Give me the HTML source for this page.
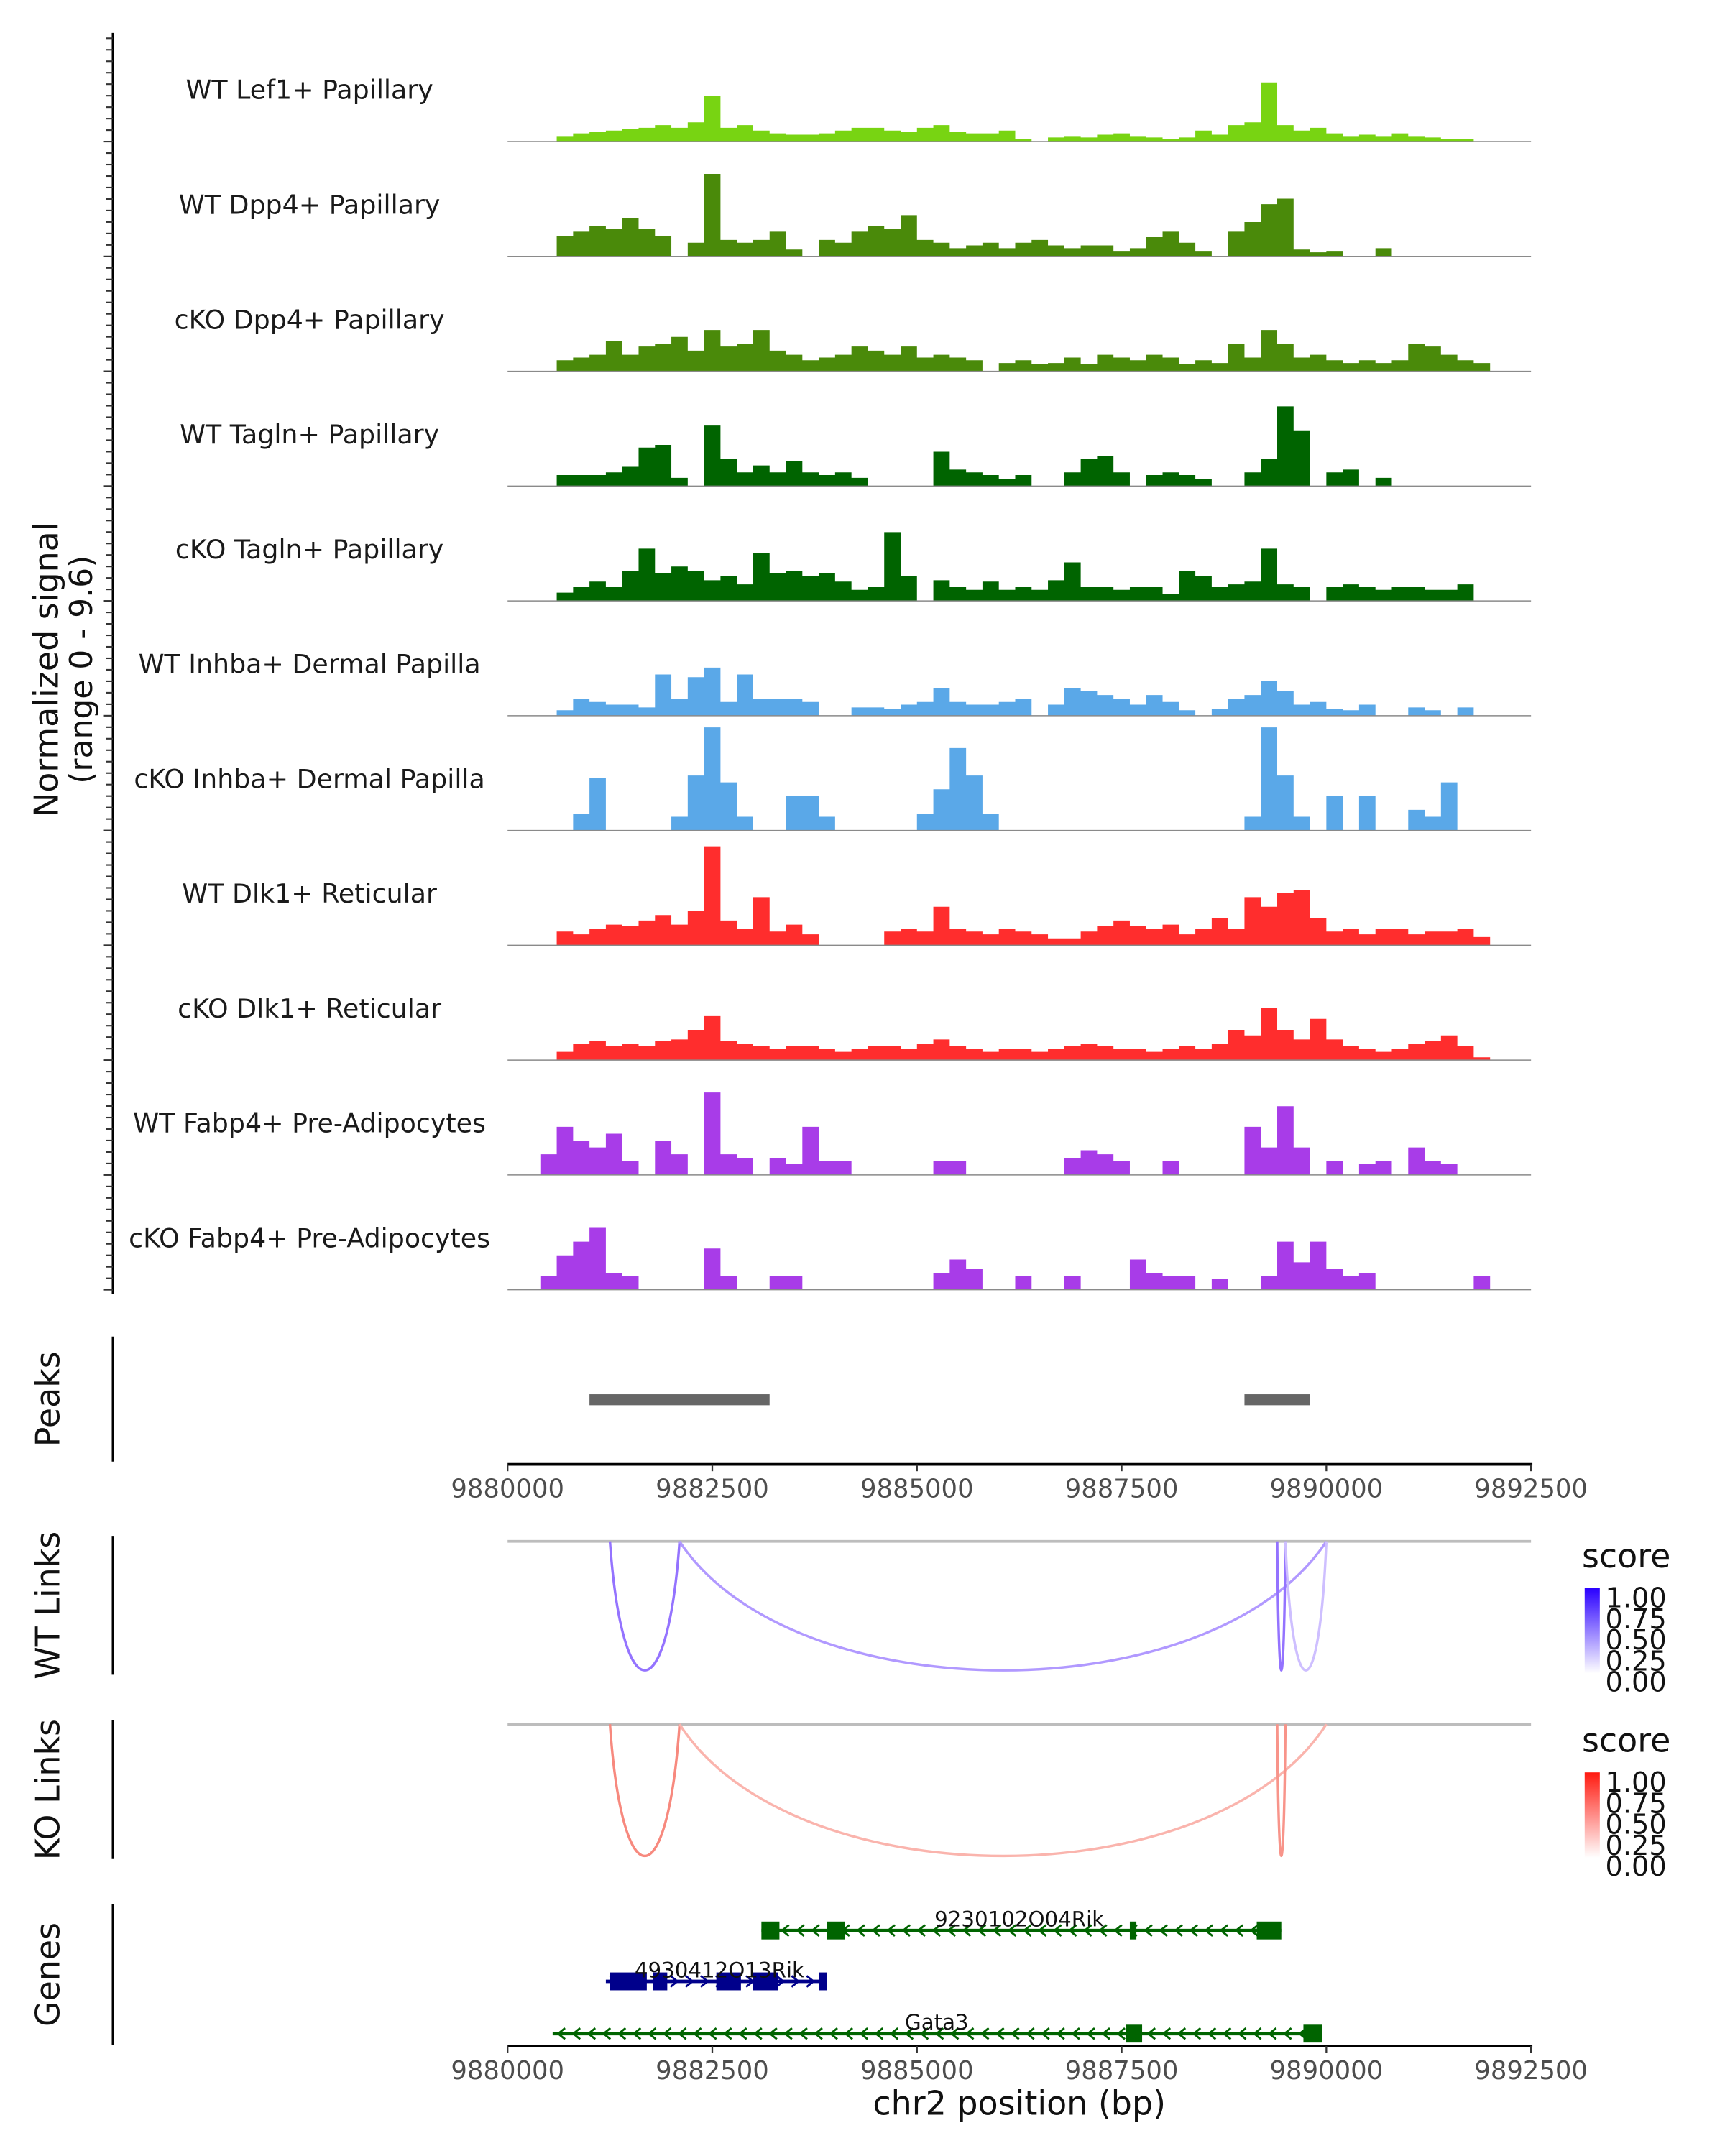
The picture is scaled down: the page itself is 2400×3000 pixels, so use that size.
<!DOCTYPE html>
<html><head><meta charset="utf-8"><style>
html,body{margin:0;padding:0;background:#fff;}
svg{display:block;font-family:"DejaVu Sans","Liberation Sans",sans-serif;}
</style></head><body>
<svg id="chart" width="2400" height="3000" viewBox="0 0 1254 1568" preserveAspectRatio="none" xmlns="http://www.w3.org/2000/svg">
<rect x="0" y="0" width="1254" height="1568" fill="#fff"/>
<g id="tracks"></g>
<g id="misc"></g>
</svg>
<script>
// ---- data ----
const trackNames = ["WT Lef1+ Papillary","WT Dpp4+ Papillary","cKO Dpp4+ Papillary","WT Tagln+ Papillary","cKO Tagln+ Papillary","WT Inhba+ Dermal Papilla","cKO Inhba+ Dermal Papilla","WT Dlk1+ Reticular","cKO Dlk1+ Reticular","WT Fabp4+ Pre-Adipocytes","cKO Fabp4+ Pre-Adipocytes"];
const trackColors = ["#78d412","#4a8a0a","#4a8a0a","#006400","#006400","#5aa8e8","#5aa8e8","#ff2d2d","#ff2d2d","#a83ce8","#a83ce8"];
const binStart = 9880400;
const binSize = 200;
const signalMax = 80;
const sigLef1WT = [0,4,6,7,8,9,10,12,10,14,33,10,12,8,6,5,5,6,8,10,10,8,7,10,12,7,6,6,8,2,0,3,4,3,5,6,4,3,2,3,8,5,12,14,43,12,8,10,6,4,5,4,6,4,3,2,2,0];
const sigDpp4WT = [0,15,18,22,20,28,20,15,0,10,60,12,10,12,18,5,0,12,10,18,22,20,30,12,10,6,8,10,6,10,12,8,6,8,8,4,6,14,18,10,4,0,18,25,38,42,5,3,4,0,0,6,0,0,0,0,0,0];
const sigDpp4KO = [0,8,10,12,22,12,18,20,25,15,30,18,20,30,15,12,8,10,12,18,15,12,18,10,12,10,8,0,6,8,5,6,10,5,12,10,8,12,10,5,8,6,20,10,30,20,10,12,8,6,8,6,8,20,18,12,8,6];
const sigTaglnWT = [0,8,8,8,10,14,28,30,6,0,44,20,10,15,10,18,10,8,10,6,0,0,0,0,25,12,10,8,5,8,0,0,10,20,22,10,0,8,10,8,5,0,0,10,20,58,40,0,10,12,0,6,0,0,0,0,0,0];
const sigTaglnKO = [0,6,10,14,10,22,38,20,25,22,15,18,12,35,20,22,18,20,14,8,10,50,18,0,15,10,8,14,8,10,8,15,28,10,10,8,10,10,5,22,18,10,12,14,38,12,10,0,10,12,10,8,10,10,8,8,12,0];
const sigInhbaWT = [0,4,12,10,8,8,6,30,12,28,35,10,30,12,12,12,10,0,0,6,6,5,8,10,20,10,8,8,10,12,0,8,20,18,15,12,8,15,10,4,0,5,12,15,25,18,8,10,5,4,8,0,0,6,4,0,6,0];
const sigInhbaKO = [0,0,12,38,0,0,0,0,10,40,75,35,10,0,0,25,25,10,0,0,0,0,0,12,30,60,40,12,0,0,0,0,0,0,0,0,0,0,0,0,0,0,0,10,75,40,10,0,25,0,25,0,0,15,10,35,0,0];
const sigDlk1WT = [0,10,8,12,15,14,18,22,15,25,72,18,12,35,10,15,8,0,0,0,0,10,12,10,28,12,10,8,12,10,8,5,5,10,14,18,14,12,15,8,12,20,12,35,28,38,40,20,10,12,8,12,12,8,10,10,12,6];
const sigDlk1KO = [0,6,12,14,10,12,10,14,15,22,32,14,12,10,8,10,10,8,6,8,10,10,8,12,15,10,8,6,8,8,6,8,10,12,10,8,8,6,8,10,8,12,22,18,38,22,15,30,15,10,8,6,8,12,14,18,10,2];
const sigFabp4WT = [15,35,25,20,30,10,0,25,15,0,60,15,12,0,12,8,35,10,10,0,0,0,0,0,10,10,0,0,0,0,0,0,12,18,15,10,0,0,10,0,0,0,0,35,20,50,20,0,10,0,8,10,0,20,10,8,0,0];
const sigFabp4KO = [10,25,35,45,12,10,0,0,0,0,30,10,0,0,10,10,0,0,0,0,0,0,0,0,12,22,15,0,0,10,0,0,10,0,0,0,22,12,10,10,0,8,0,0,10,35,20,35,15,10,12,0,0,0,0,0,0,10];
const signals = [sigLef1WT,sigDpp4WT,sigDpp4KO,sigTaglnWT,sigTaglnKO,sigInhbaWT,sigInhbaKO,sigDlk1WT,sigDlk1KO,sigFabp4WT,sigFabp4KO];
const xTicks = [9880000,9882500,9885000,9887500,9890000,9892500];
const peakStarts = [9881000,9889000];
const peakEnds = [9883200,9889800];
const wtLinkStarts = [9881250,9882100,9889400,9889500];
const wtLinkEnds = [9882100,9890000,9889500,9890000];
const wtLinkScores = [0.55,0.4,0.55,0.25];
const koLinkStarts = [9881250,9882100,9889400];
const koLinkEnds = [9882100,9890000,9889500];
const koLinkScores = [0.55,0.35,0.5];
const legendTicks = ["1.00","0.75","0.50","0.25","0.00"];

// ---- scales ----
const X0 = 9880000, X1 = 9892500, PX0 = 369, PX1 = 1113;
function xs(bp){ return PX0 + (bp - X0) / (X1 - X0) * (PX1 - PX0); }
const NS = "http://www.w3.org/2000/svg";
function mk(tag, attrs, parent, text){
  const e = document.createElementNS(NS, tag);
  for (const k in attrs) e.setAttribute(k, attrs[k]);
  if (text !== undefined) e.textContent = text;
  parent.appendChild(e); return e;
}
const tracksG = document.getElementById('tracks');
const misc = document.getElementById('misc');

// tracks
const base0 = 103, spacing = 83.5, hpx = 80;
signals.forEach((sig, t) => {
  const by = base0 + t * spacing;
  const g = mk('g', {}, tracksG);
  
  
  let d = 'M' + xs(binStart) + ',' + by;
  sig.forEach((v, i) => {
    const xa = xs(binStart + i * binSize), xb = xs(binStart + (i + 1) * binSize);
    const y = by - v / signalMax * hpx;
    d += ' L' + xa + ',' + y + ' L' + xb + ',' + y;
  });
  d += ' L' + xs(binStart + sig.length * binSize) + ',' + by + ' Z';
  const p = mk('path', {d: d, fill: trackColors[t], stroke: 'none'}, g);
  
  
  const bl = mk('line', {x1: PX0, x2: PX1, y1: by, y2: by, stroke: '#8a8a8a', 'stroke-width': 0.8}, g);
  
  
  const lab = mk('text', {x: 225, y: by - 31, 'text-anchor': 'middle', 'font-size': 19, fill: '#1a1a1a'}, g, trackNames[t]);
  
  
});

// left signal axis
mk('line', {x1: 82, x2: 82, y1: 24, y2: 941, stroke: '#000', 'stroke-width': 1.5}, misc);
for (let t = 0; t < 11; t++) {
  const by = base0 + t * spacing;
  for (let k = 0; k < 10; k++) {
    const y = by - k * 8.35;
    mk('line', {x1: k === 0 ? 75 : 77, x2: 82, y1: y, y2: y, stroke: '#333', 'stroke-width': 1.1}, misc);
  }
}
const yt = mk('text', {transform: 'translate(42,487) rotate(-90)', 'text-anchor': 'middle', 'font-size': 24, fill: '#111'}, misc, 'Normalized signal');


mk('text', {transform: 'translate(67,487) rotate(-90)', 'text-anchor': 'middle', 'font-size': 23, fill: '#111'}, misc, '(range 0 - 9.6)');

// side panel axes and titles
function sideAxis(y1, y2, label, name){
  mk('line', {x1: 82, x2: 82, y1: y1, y2: y2, stroke: '#000', 'stroke-width': 1.5}, misc);
  const t = mk('text', {transform: 'translate(43,' + ((y1 + y2) / 2) + ') rotate(-90)', 'text-anchor': 'middle', 'font-size': 24, fill: '#111'}, misc, label);
  
  
}
sideAxis(972, 1063, 'Peaks', 'peaks-title');
sideAxis(1117, 1218, 'WT Links', 'wt-links-title');
sideAxis(1251, 1352, 'KO Links', 'ko-links-title');
sideAxis(1385, 1487, 'Genes', 'genes-title');

// peaks
peakStarts.forEach((s, i) => {
  const r = mk('rect', {x: xs(s), y: 1014, width: xs(peakEnds[i]) - xs(s), height: 8, fill: '#666'}, misc);
  
  
});

// x axes
function xAxis(y, name){
  const g = mk('g', {}, misc);
  
  
  mk('line', {x1: PX0, x2: PX1 + 1, y1: y, y2: y, stroke: '#000', 'stroke-width': 2}, g);
  xTicks.forEach(v => {
    mk('line', {x1: xs(v), x2: xs(v), y1: y, y2: y + 5, stroke: '#333', 'stroke-width': 1.2}, g);
    mk('text', {x: xs(v), y: y + 24, 'text-anchor': 'middle', 'font-size': 18.5, fill: '#4d4d4d'}, g, String(v));
  });
}
xAxis(1065, 'x-axis-top');
xAxis(1488, 'x-axis-bottom');
const xt = mk('text', {x: 741, y: 1538, 'text-anchor': 'middle', 'font-size': 24, fill: '#111'}, misc, 'chr2 position (bp)');



// links
function blend(c, s){
  const r = Math.round(255 + (c[0] - 255) * s), g = Math.round(255 + (c[1] - 255) * s), b = Math.round(255 + (c[2] - 255) * s);
  return 'rgb(' + r + ',' + g + ',' + b + ')';
}
function links(starts, ends, scores, by, depth, col, name){
  mk('line', {x1: PX0, x2: PX1, y1: by, y2: by, stroke: '#bdbdbd', 'stroke-width': 2}, misc);
  starts.forEach((s, i) => {
    const a = xs(s), b = xs(ends[i]), m = (a + b) / 2;
    const d = 'M' + a + ',' + by + ' C' + (a + (m - a) * 0.35) + ',' + (by + depth * 1.33) + ' ' + (b - (b - m) * 0.35) + ',' + (by + depth * 1.33) + ' ' + b + ',' + by;
    const p = mk('path', {d: d, fill: 'none', stroke: blend(col, scores[i]), 'stroke-width': 1.8}, misc);
    
    
  });
}
links(wtLinkStarts, wtLinkEnds, wtLinkScores, 1121, 94, [60, 0, 255], 'wt-link');
links(koLinkStarts, koLinkEnds, koLinkScores, 1254, 96, [240, 40, 20], 'ko-link');

// legends
function legend(y0, col, id, name){
  const g = mk('g', {}, misc);
  
  
  mk('text', {x: 1150, y: y0, 'font-size': 24, fill: '#111'}, g, 'score');
  const defs = mk('defs', {}, g);
  const lg = mk('linearGradient', {id: id, x1: 0, y1: 0, x2: 0, y2: 1}, defs);
  mk('stop', {offset: '0', 'stop-color': col}, lg);
  mk('stop', {offset: '1', 'stop-color': '#ffffff'}, lg);
  mk('rect', {x: 1152, y: y0 + 15, width: 11, height: 62, fill: 'url(#' + id + ')'}, g);
  legendTicks.forEach((t, i) => {
    mk('text', {x: 1167, y: y0 + 29 + i * 15.3, 'font-size': 20, fill: '#111'}, g, t);
  });
}
legend(1140, '#2a00ff', 'gwt', 'wt-score-legend');
legend(1274, '#ff1a10', 'gko', 'ko-score-legend');

// genes
function gene(y, s, e, exons, col, label, lx, dir, name){
  const g = mk('g', {}, misc);
  
  
  mk('line', {x1: xs(s), x2: xs(e), y1: y, y2: y, stroke: col, 'stroke-width': 2.5}, g);
  for (let x = xs(s) + 6; x < xs(e) - 4; x += 11) {
    const d = dir < 0 ? 'M' + (x + 3) + ',' + (y - 4) + ' L' + (x - 2) + ',' + y + ' L' + (x + 3) + ',' + (y + 4)
                      : 'M' + (x - 3) + ',' + (y - 4) + ' L' + (x + 2) + ',' + y + ' L' + (x - 3) + ',' + (y + 4);
    mk('path', {d: d, fill: 'none', stroke: col, 'stroke-width': 1.5}, g);
  }
  exons.forEach(ex => {
    mk('rect', {x: xs(ex[0]), y: y - 6.5, width: xs(ex[1]) - xs(ex[0]), height: 13, fill: col}, g);
  });
  mk('text', {x: lx, y: y - 3, 'text-anchor': 'middle', 'font-size': 15.3, fill: '#111'}, g, label);
}
gene(1404, 9883100, 9889450, [[9883100,9883320],[9883900,9884120],[9887600,9887680],[9889150,9889450]], '#006400', '9230102O04Rik', 741, -1, 'gene-9230102O04Rik');
gene(1441, 9881200, 9883900, [[9881250,9881700],[9881780,9881950],[9882550,9882850],[9883000,9883300],[9883800,9883900]], '#00008b', '4930412O13Rik', 523, 1, 'gene-4930412O13Rik');
gene(1479, 9880550, 9889950, [[9887550,9887750],[9889720,9889950]], '#006400', 'Gata3', 681, -1, 'gene-Gata3');
</script>
</body></html>
